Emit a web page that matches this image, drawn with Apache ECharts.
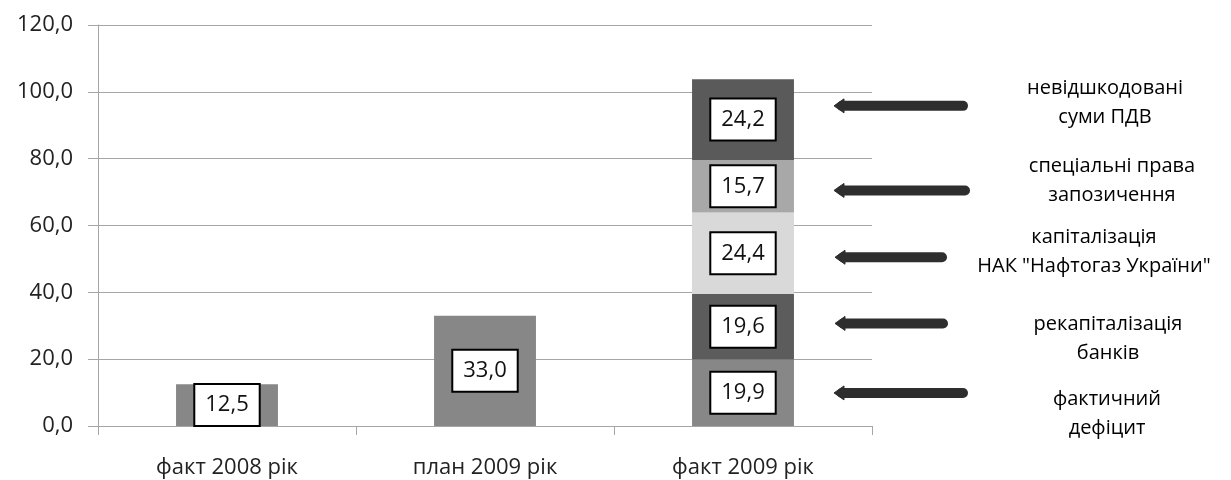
<!DOCTYPE html>
<html>
<head>
<meta charset="utf-8">
<script src="https://cdn.jsdelivr.net/npm/echarts@6/dist/echarts.min.js"></script>
<style>
  html, body { margin: 0; padding: 0; background: #fff; }
  #chart { width: 1231px; height: 480px; }
</style>
</head>
<body>
<div id="chart"></div>
<script>
// Budget deficit structure, bn UAH
const categories = ['факт 2008 рік', 'план 2009 рік', 'факт 2009 рік'];
const yTicks = [0, 20, 40, 60, 80, 100, 120];

// Stack components (bottom to top); only the last category is split
const actualDeficit   = [12.5, 33.0, 19.9]; // фактичний дефіцит
const bankRecap       = [null, null, 19.6]; // рекапіталізація банків
const naftogazCap     = [null, null, 24.4]; // капіталізація НАК "Нафтогаз України"
const sdrBorrowing    = [null, null, 15.7]; // спеціальні права запозичення
const vatArrears      = [null, null, 24.2]; // невідшкодовані суми ПДВ

// Annotation captions (top to bottom) and the value level each arrow points at
const captions = [
  ['невідшкодовані', 'суми ПДВ'],
  ['спеціальні права', 'запозичення'],
  ['капіталізація', 'НАК "Нафтогаз України"'],
  ['рекапіталізація', 'банків'],
  ['фактичний', 'дефіцит']
];
const arrowLevels = [95.8, 70.5, 50.5, 30.7, 9.9];

const FONT = '"Open Sans", "Liberation Sans", sans-serif';
const fmt = v => v.toFixed(1).replace('.', ',');

const boxLabel = {
  show: true,
  position: 'inside',
  formatter: p => fmt(p.value),
  color: '#111',
  fontFamily: FONT,
  fontSize: 22,
  backgroundColor: '#fff',
  borderColor: '#000',
  borderWidth: 2,
  padding: [9, 10, 9, 10]
};

function stackSeries(name, data, color) {
  return {
    name, type: 'bar', stack: 'total', data,
    barWidth: '39.5%',
    itemStyle: { color },
    label: boxLabel,
    emphasis: { disabled: true },
    silent: true
  };
}

const chart = echarts.init(document.getElementById('chart'), null, { renderer: 'canvas' });

const option = {
  animation: false,
  backgroundColor: '#fff',
  grid: { left: 98, right: 359, top: 25, bottom: 54, containLabel: false },
  xAxis: {
    type: 'category',
    data: categories,
    axisLine: { lineStyle: { color: '#a6a6a6', width: 1 } },
    axisTick: { show: true, length: 9, lineStyle: { color: '#a6a6a6' } },
    axisLabel: { color: '#222', fontFamily: FONT, fontSize: 22, margin: 31 }
  },
  yAxis: {
    type: 'value',
    min: yTicks[0],
    max: yTicks[yTicks.length - 1],
    interval: 20,
    axisLine: { show: true, lineStyle: { color: '#a6a6a6', width: 1 } },
    axisTick: { show: true, length: 10, lineStyle: { color: '#a6a6a6' } },
    splitLine: { lineStyle: { color: '#a6a6a6', width: 1 } },
    axisLabel: { color: '#222', fontFamily: FONT, fontSize: 22, margin: 25, formatter: v => fmt(v) }
  },
  series: [
    stackSeries('фактичний дефіцит', actualDeficit, '#878787'),
    stackSeries('рекапіталізація банків', bankRecap, '#5c5c5c'),
    stackSeries('капіталізація НАК "Нафтогаз України"', naftogazCap, '#d9d9d9'),
    stackSeries('спеціальні права запозичення', sdrBorrowing, '#a8a8a8'),
    stackSeries('невідшкодовані суми ПДВ', vatArrears, '#5a5a5a')
  ]
};

chart.setOption(option);

// Arrows and captions to the right of the stacked column
const arrowStarts = [834, 834, 835, 835, 834];
const arrowEnds   = [963, 965, 942, 943, 963];
const captionX    = [1105, 1112, 1094, 1108, 1107];
const captionDy   = [-3, -10, -5, 15, 21];

const graphics = [];
arrowLevels.forEach((lvl, i) => {
  const y = chart.convertToPixel({ yAxisIndex: 0 }, lvl);
  const x0 = arrowStarts[i], x1 = arrowEnds[i];
  graphics.push({
    type: 'line',
    shape: { x1: x0 + 8, y1: y, x2: x1, y2: y },
    style: { stroke: '#2e2e2e', lineWidth: 10, lineCap: 'round' },
    silent: true
  });
  graphics.push({
    type: 'polygon',
    shape: { points: [[x0, y], [x0 + 10, y - 7], [x0 + 10, y + 7]] },
    style: { fill: '#2e2e2e', lineJoin: 'round', stroke: '#2e2e2e', lineWidth: 1 },
    silent: true
  });
  graphics.push({
    type: 'text',
    x: captionX[i],
    y: y + captionDy[i],
    style: {
      text: captions[i].join('\n'),
      fontFamily: FONT,
      fontSize: 20,
      lineHeight: 29,
      fill: '#000',
      align: 'center',
      verticalAlign: 'middle'
    },
    silent: true
  });
});

chart.setOption({ graphic: graphics });
</script>
</body>
</html>
